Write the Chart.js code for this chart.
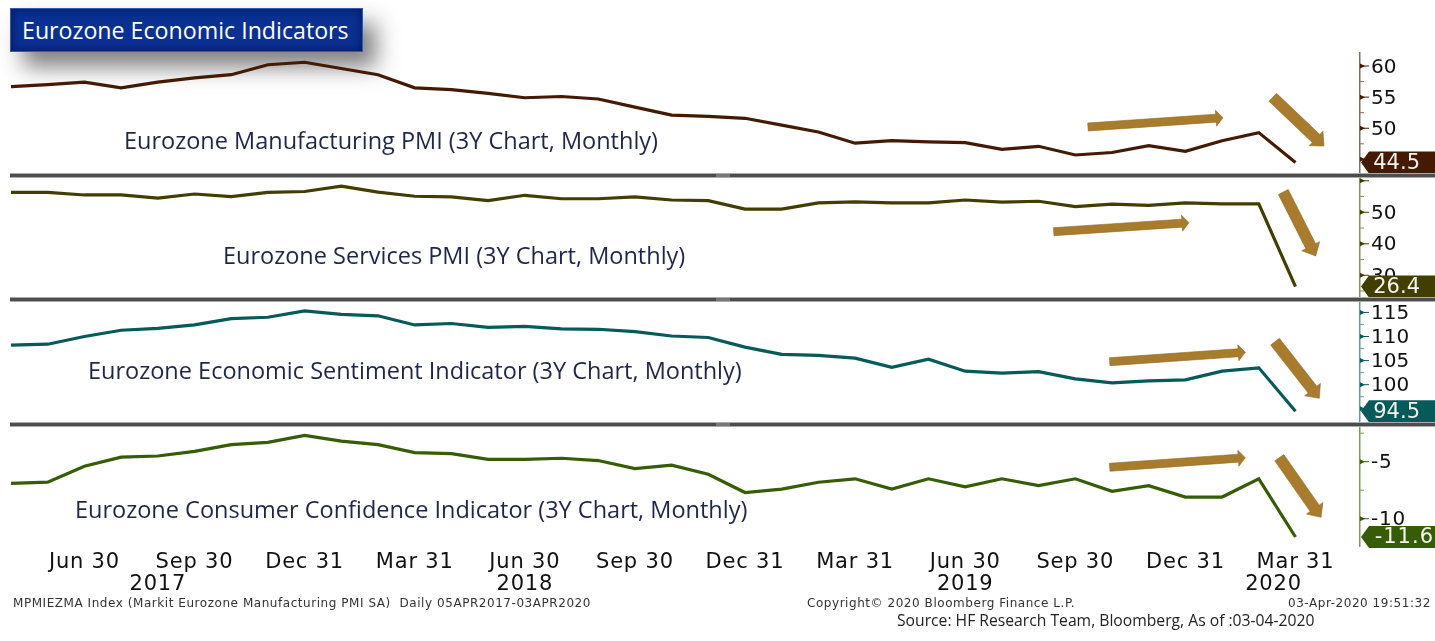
<!DOCTYPE html>
<html>
<head>
<meta charset="utf-8">
<title>Eurozone Economic Indicators</title>
<script src="https://cdn.jsdelivr.net/npm/chart.js@4"></script>
<style>
html, body { margin: 0; padding: 0; background: #fff; overflow: hidden; }
#page { position: relative; width: 1435px; height: 641px; }
#page canvas { position: absolute; left: 0; }
.header {
    position: absolute; left: 10px; top: 8px; width: 351px; height: 42px;
    background: #0a3092; border: 1px solid #2a5cb8;
    box-shadow: inset 0 0 10px rgba(0, 10, 60, .7), 13px 15px 22px rgba(50, 50, 50, .62);
    color: #fff; font: 23.2px/42px "Open Sans"; text-indent: 11px; white-space: nowrap;
}
.sep { position: absolute; left: 10px; width: 1425px; height: 3px; background: #4d4d4d; border-top: 1px solid #aaa; border-bottom: 1px solid #aaa; }
.sep i { position: absolute; left: 706px; top: 0; width: 14px; height: 3px; background: #777; }
.panelTitle { position: absolute; color: #1f2747; font: 23.5px "Open Sans"; white-space: nowrap; transform: translateY(-50%); }
.foot { position: absolute; color: #333; font: 12px "DejaVu Sans"; letter-spacing: .55px; white-space: nowrap; }
.source { position: absolute; color: #222; font: 15.7px "Open Sans"; white-space: nowrap; }
svg { position: absolute; left: 0; top: 0; }
</style>
</head>
<body>
<div id="page">
    <div class="header">Eurozone Economic Indicators</div>
    <canvas id="pmiMfg" width="1435" height="121" style="top:52px"></canvas>
    <canvas id="pmiSvc" width="1435" height="119" style="top:178px"></canvas>
    <canvas id="sentiment" width="1435" height="120" style="top:302px"></canvas>
    <canvas id="confidence" width="1435" height="170" style="top:427px"></canvas>
    <div class="sep" style="top:173px"><i></i></div>
    <div class="sep" style="top:297px"><i></i></div>
    <div class="sep" style="top:422px"><i></i></div>
    <div class="panelTitle" style="left:124px;top:140px">Eurozone Manufacturing PMI (3Y Chart, Monthly)</div>
    <div class="panelTitle" style="left:223px;top:255px">Eurozone Services PMI (3Y Chart, Monthly)</div>
    <div class="panelTitle" style="left:88px;top:370px">Eurozone Economic Sentiment Indicator (3Y Chart, Monthly)</div>
    <div class="panelTitle" style="left:75px;top:509px">Eurozone Consumer Confidence Indicator (3Y Chart, Monthly)</div>
    <div class="foot" style="left:13px;top:596px">MPMIEZMA Index (Markit Eurozone Manufacturing PMI SA)&nbsp; Daily 05APR2017-03APR2020</div>
    <div class="foot" style="left:807px;top:596px">Copyright© 2020 Bloomberg Finance L.P.</div>
    <div class="foot" style="left:1288px;top:596px">03-Apr-2020 19:51:32</div>
    <div class="source" style="left:897px;top:609px">Source: HF Research Team, Bloomberg, As of :03-04-2020</div>
    <svg id="arrows" width="1435" height="641"></svg>
</div>
<script>
const months = [
    'Apr 2017','May 2017','Jun 2017','Jul 2017','Aug 2017','Sep 2017','Oct 2017','Nov 2017','Dec 2017',
    'Jan 2018','Feb 2018','Mar 2018','Apr 2018','May 2018','Jun 2018','Jul 2018','Aug 2018','Sep 2018',
    'Oct 2018','Nov 2018','Dec 2018','Jan 2019','Feb 2019','Mar 2019','Apr 2019','May 2019','Jun 2019',
    'Jul 2019','Aug 2019','Sep 2019','Oct 2019','Nov 2019','Dec 2019','Jan 2020','Feb 2020','Mar 2020'
];

const manufacturingPmi = [56.7,57.0,57.4,56.5,57.4,58.1,58.6,60.2,60.6,59.6,58.6,56.5,56.2,55.6,54.9,55.1,54.7,53.4,
    52.1,51.9,51.6,50.5,49.4,47.6,48.0,47.8,47.7,46.6,47.1,45.7,46.1,47.2,46.3,48.0,49.3,44.5];
const servicesPmi = [56.3,56.3,55.5,55.5,54.5,55.8,55.0,56.3,56.6,58.3,56.4,55.1,54.9,53.7,55.4,54.3,54.3,54.9,
    53.9,53.7,51.0,51.0,53.0,53.3,53.0,53.0,53.9,53.2,53.5,51.8,52.6,52.2,53.0,52.7,52.7,26.4];
const sentimentIndex = [108.2,108.4,110.0,111.3,111.7,112.4,113.7,114.0,115.3,114.6,114.3,112.4,112.7,111.9,112.1,111.6,111.5,111.0,
    110.1,109.8,107.8,106.3,106.1,105.5,103.6,105.3,102.8,102.4,102.7,101.2,100.4,100.8,101.0,102.8,103.5,94.5];
const consumerConfidence = [-6.9,-6.8,-5.4,-4.6,-4.5,-4.1,-3.5,-3.3,-2.7,-3.2,-3.5,-4.2,-4.3,-4.8,-4.8,-4.7,-4.9,-5.6,
    -5.3,-6.1,-7.7,-7.4,-6.8,-6.5,-7.4,-6.5,-7.2,-6.5,-7.1,-6.5,-7.6,-7.1,-8.1,-8.1,-6.5,-11.6];

// bottom axis, positions are month indexes
const dateTickIndexes = [2,5,8,11,14,17,20,23,26,29,32,35];
const dateTickLabels = ['Jun 30','Sep 30','Dec 31','Mar 31','Jun 30','Sep 30','Dec 31','Mar 31','Jun 30','Sep 30','Dec 31','Mar 31'];
const yearTickIndexes = [4,14,26,34.4];
const yearTickLabels = ['2017','2018','2019','2020'];

const mfgLabelled = [60,55,50];
const mfgMajor = [60,55,50,45];
const mfgMinor = [62.5,57.5,52.5,47.5];
const svcLabelled = [50,40,30];
const svcMajor = [60,50,40,30];
const svcMinor = [55,45,35,25];
const sentLabelled = [115,110,105,100];
const sentMajor = [115,110,105,100,95];
const sentMinor = [112.5,107.5,102.5,97.5];
const confLabelled = [-5,-10];
const confMajor = [-5,-10];
const confMinor = [-2.5,-7.5];

const FONT = 'DejaVu Sans';
const PLOT_LEFT = 11;
const AXIS_X = 1360;
const MONTH_PX = 36.7;
const X_MAX = (AXIS_X - PLOT_LEFT) / MONTH_PX;

// axis ticks (wedge for major, short for minor) and the last-value tag
const panelDecor = {
    id: 'panelDecor',
    beforeDraw(chart, args, opts) {
        chart.ctx.letterSpacing = opts.spacing;
    },
    afterDraw(chart, args, opts) {
        const ctx = chart.ctx;
        const y = chart.scales.y;
        ctx.save();
        y.ticks.forEach((t) => {
            const py = y.getPixelForValue(t.value);
            ctx.strokeStyle = t.major ? opts.color : opts.axis;
            ctx.fillStyle = opts.color;
            ctx.lineWidth = 1;
            ctx.beginPath();
            ctx.moveTo(AXIS_X, py);
            ctx.lineTo(AXIS_X + (t.major ? 9 : 4), py);
            ctx.stroke();
            if (t.major) {
                ctx.beginPath();
                ctx.moveTo(AXIS_X, py - 2.5);
                ctx.lineTo(AXIS_X + 5, py);
                ctx.lineTo(AXIS_X, py + 2.5);
                ctx.fill();
            }
        });
        const py = y.getPixelForValue(opts.last);
        ctx.fillStyle = opts.color;
        ctx.beginPath();
        ctx.moveTo(AXIS_X + 1, py);
        ctx.lineTo(AXIS_X + 9, py - 11);
        ctx.lineTo(1435, py - 11);
        ctx.lineTo(1435, py + 11);
        ctx.lineTo(AXIS_X + 9, py + 11);
        ctx.closePath();
        ctx.fill();
        ctx.fillStyle = '#f4f4ee';
        ctx.font = '21px "' + FONT + '"';
        ctx.letterSpacing = opts.last < 0 ? '1px' : '0px';
        ctx.textBaseline = 'middle';
        ctx.textAlign = 'right';
        ctx.fillText(String(opts.last), opts.last < 0 ? 1434 : 1420, py + 1);
        ctx.restore();
    }
};

function makePanel(canvasId, values, color, axisColor, yMin, yMax, labelled, major, minor, showDates) {
    const scales = {
        x: {
            type: 'linear', min: 0, max: X_MAX, display: showDates,
            grid: { display: false, drawTicks: false }, border: { display: false },
            afterBuildTicks: (s) => { s.ticks = dateTickIndexes.map((v) => ({ value: v })); },
            afterFit: (s) => {
                s.height = showDates ? 26 : 0;
                s.paddingLeft = 0;
                s.paddingRight = 0;
            },
            ticks: {
                autoSkip: false, maxRotation: 0, minRotation: 0, padding: 4, color: '#111',
                font: { family: FONT, size: 21 },
                callback: (v) => dateTickLabels[dateTickIndexes.indexOf(v)]
            }
        },
        y: {
            position: 'right', min: yMin, max: yMax,
            grid: { display: false, drawTicks: false },
            border: { color: axisColor, width: 1.5 },
            afterBuildTicks: (s) => {
                s.ticks = major.map((v) => ({ value: v, major: true })).concat(minor.map((v) => ({ value: v })));
            },
            afterFit: (s) => {
                s.width = 1435 - AXIS_X;
                s.paddingTop = 0;
                s.paddingBottom = 0;
            },
            ticks: {
                autoSkip: false, padding: 11, color: '#111', labelOffset: 1.5,
                font: { family: FONT, size: 20 },
                callback: (v) => (labelled.includes(v) ? String(v) : '')
            }
        }
    };
    if (showDates) {
        scales.years = {
            axis: 'x', type: 'linear', position: 'bottom', weight: 1, min: 0, max: X_MAX,
            grid: { display: false, drawTicks: false }, border: { display: false },
            afterBuildTicks: (s) => { s.ticks = yearTickIndexes.map((v) => ({ value: v })); },
            afterFit: (s) => {
                s.height = 25;
                s.paddingLeft = 0;
                s.paddingRight = 0;
            },
            ticks: {
                autoSkip: false, maxRotation: 0, minRotation: 0, padding: 0, color: '#111',
                font: { family: FONT, size: 21 },
                callback: (v) => yearTickLabels[yearTickIndexes.indexOf(v)]
            }
        };
    }
    return new Chart(document.getElementById(canvasId), {
        type: 'line',
        data: {
            labels: months,
            datasets: [{
                data: values.map((v, i) => ({ x: i, y: v })),
                borderColor: color,
                borderWidth: 3.2,
                pointRadius: 0,
                tension: 0,
                borderJoinStyle: 'miter',
                clip: false
            }]
        },
        options: {
            responsive: false,
            animation: false,
            layout: { padding: { left: PLOT_LEFT, right: 0, top: 0, bottom: 0 } },
            plugins: {
                legend: { display: false },
                tooltip: { enabled: false },
                panelDecor: { color: color, axis: axisColor, last: values[values.length - 1], spacing: showDates ? '0.8px' : '0px' }
            },
            scales: scales
        },
        plugins: [panelDecor]
    });
}

makePanel('pmiMfg', manufacturingPmi, '#441a03', '#8a6a5e', 42.81, 62.25, mfgLabelled, mfgMajor, mfgMinor, false);
makePanel('pmiSvc', servicesPmi, '#423e00', '#8b8b5a', 23.1, 60.89, svcLabelled, svcMajor, svcMinor, false);
makePanel('sentiment', sentimentIndex, '#065a5a', '#5c9c9c', 92.26, 117.16, sentLabelled, sentMajor, sentMinor, false);
makePanel('confidence', consumerConfidence, '#375c06', '#7c9c52', -12.39, -1.96, confLabelled, confMajor, confMinor, true);

// hand drawn annotation arrows: tail x, tail y, tip x, tip y, shaft, head width, head length
const annotationArrows = [
    [1088,127,1223,117.7,8,16,7],
    [1272.7,97.3,1324,146,11,20,11],
    [1053.7,231.7,1189,222.7,8,16,7],
    [1283.3,192,1315.7,256,11,20,11],
    [1109.7,361.7,1245.3,352.3,8,16,7],
    [1275,341.7,1319.3,398.3,11,20,11],
    [1109.7,467.3,1245.3,457.7,8,16,7],
    [1279.3,457.7,1321,517.3,11,20,11]
];

const svg = document.getElementById('arrows');
annotationArrows.forEach(([x1, y1, x2, y2, w, hw, hl]) => {
    const len = Math.hypot(x2 - x1, y2 - y1);
    const ux = (x2 - x1) / len, uy = (y2 - y1) / len;
    const nx = -uy, ny = ux;
    const bx = x2 - ux * hl, by = y2 - uy * hl;
    const pts = [
        [x1 + nx * w / 2, y1 + ny * w / 2],
        [bx + nx * w / 2, by + ny * w / 2],
        [bx + nx * hw / 2, by + ny * hw / 2],
        [x2, y2],
        [bx - nx * hw / 2, by - ny * hw / 2],
        [bx - nx * w / 2, by - ny * w / 2],
        [x1 - nx * w / 2, y1 - ny * w / 2]
    ];
    const poly = document.createElementNS('http://www.w3.org/2000/svg', 'polygon');
    poly.setAttribute('points', pts.map((p) => p.join(',')).join(' '));
    poly.setAttribute('fill', '#a97b2c');
    poly.setAttribute('stroke', '#8f6a28');
    poly.setAttribute('stroke-width', '0.6');
    svg.appendChild(poly);
});
</script>
</body>
</html>
